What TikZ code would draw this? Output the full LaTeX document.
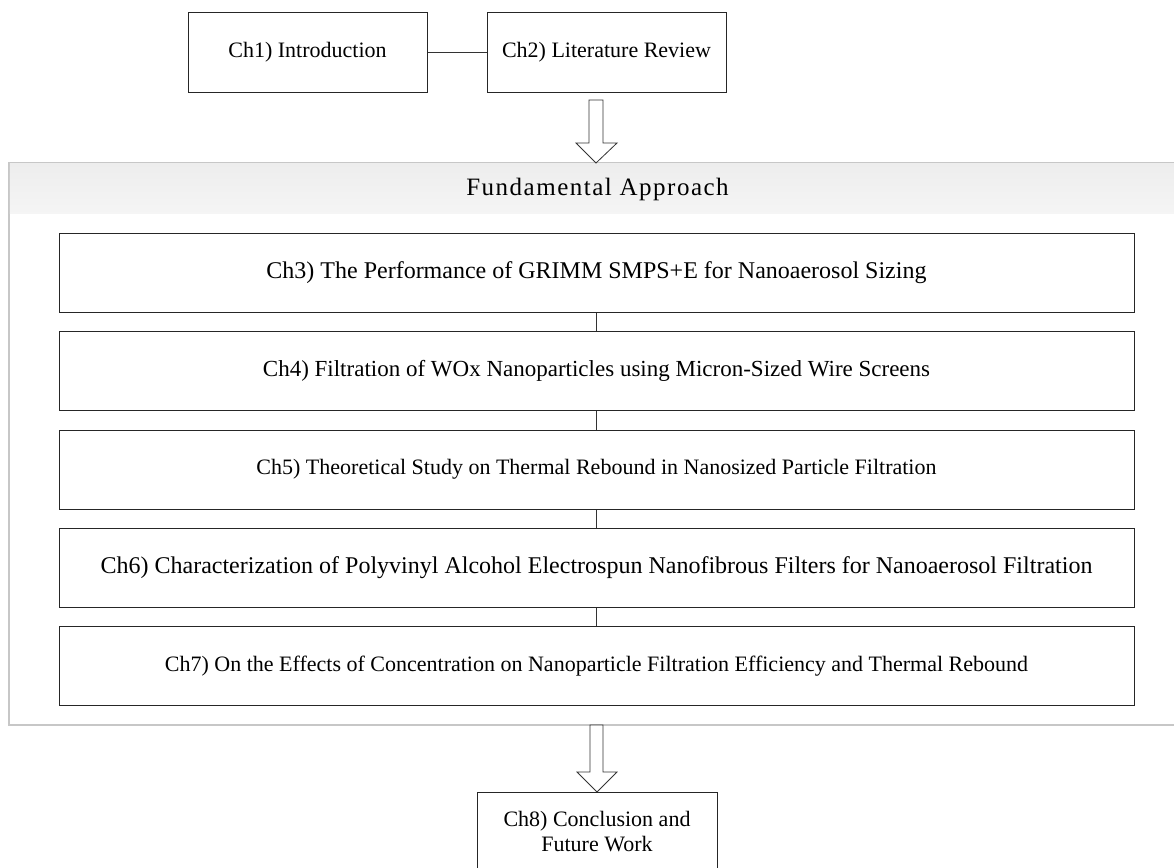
\documentclass[tikz,border=0pt]{standalone}
\usepackage{fontspec}
\setmainfont{Liberation Serif}
\begin{document}
\begin{tikzpicture}[x=1pt,y=-1pt,
  chap/.style={draw=black!85, line width=1pt, fill=white, minimum height=79pt,
    inner sep=0pt, font=\fontsize{22}{25}\selectfont, align=center},
  wide/.style={chap, minimum width=1075pt},
  big/.style={font=\fontsize{24}{27}\selectfont},
  small/.style={chap, minimum width=239pt},
  link/.style={draw=black!80, line width=1pt},
  blockarrow/.style={draw=black!80, line width=0.8pt, fill=white, line join=miter}
]
\clip (0,0) rectangle (1174,867);
\fill[white] (0,0) rectangle (1174,867);
% container
\draw[draw=black!22, line width=1.5pt, fill=white] (9,163) rectangle (1184,725);
\shade[top color=black!7, bottom color=black!4] (9.75,163.75) rectangle (1183,213);
\node[anchor=base, font=\fontsize{25}{28}\selectfont\addfontfeatures{LetterSpace=6}] (hdr) at (597.5,195) {Fundamental Approach};
% top boxes
\node[small] (ch1) at (307.5,52.5) {Ch1) Introduction};
\node[small] (ch2) at (606.5,52.5) {Ch2) Literature Review};
\draw[link] (ch1) -- (ch2);
% arrows
\draw[blockarrow] (589,100) -- (603,100) -- (603,143) -- (617,143) -- (596,163) -- (576,143) -- (589,143) -- cycle;
% inner boxes
\node[wide, big] (ch3) at (596.5,272.5) {Ch3) The Performance of GRIMM SMPS+E for Nanoaerosol Sizing};
\node[wide, font=\fontsize{23}{26}\selectfont] (ch4) at (596.5,371) {Ch4) Filtration of WOx Nanoparticles using Micron-Sized Wire Screens};
\node[wide] (ch5) at (596.5,469.5) {Ch5) Theoretical Study on Thermal Rebound in Nanosized Particle Filtration};
\node[wide, big] (ch6) at (596.5,567.5) {Ch6) Characterization of Polyvinyl Alcohol Electrospun Nanofibrous Filters for Nanoaerosol Filtration};
\node[wide] (ch7) at (596.5,666) {Ch7) On the Effects of Concentration on Nanoparticle Filtration Efficiency and Thermal Rebound};
\draw[link] (ch3) -- (ch4);
\draw[link] (ch4) -- (ch5);
\draw[link] (ch5) -- (ch6);
\draw[link] (ch6) -- (ch7);
\draw[blockarrow] (590,725) -- (603,725) -- (603,772) -- (617,772) -- (597,792) -- (577,772) -- (590,772) -- cycle;
\node[small, minimum width=240pt, minimum height=80pt] (ch8) at (597,832) {Ch8) Conclusion and\\Future Work};
\end{tikzpicture}
\end{document}
